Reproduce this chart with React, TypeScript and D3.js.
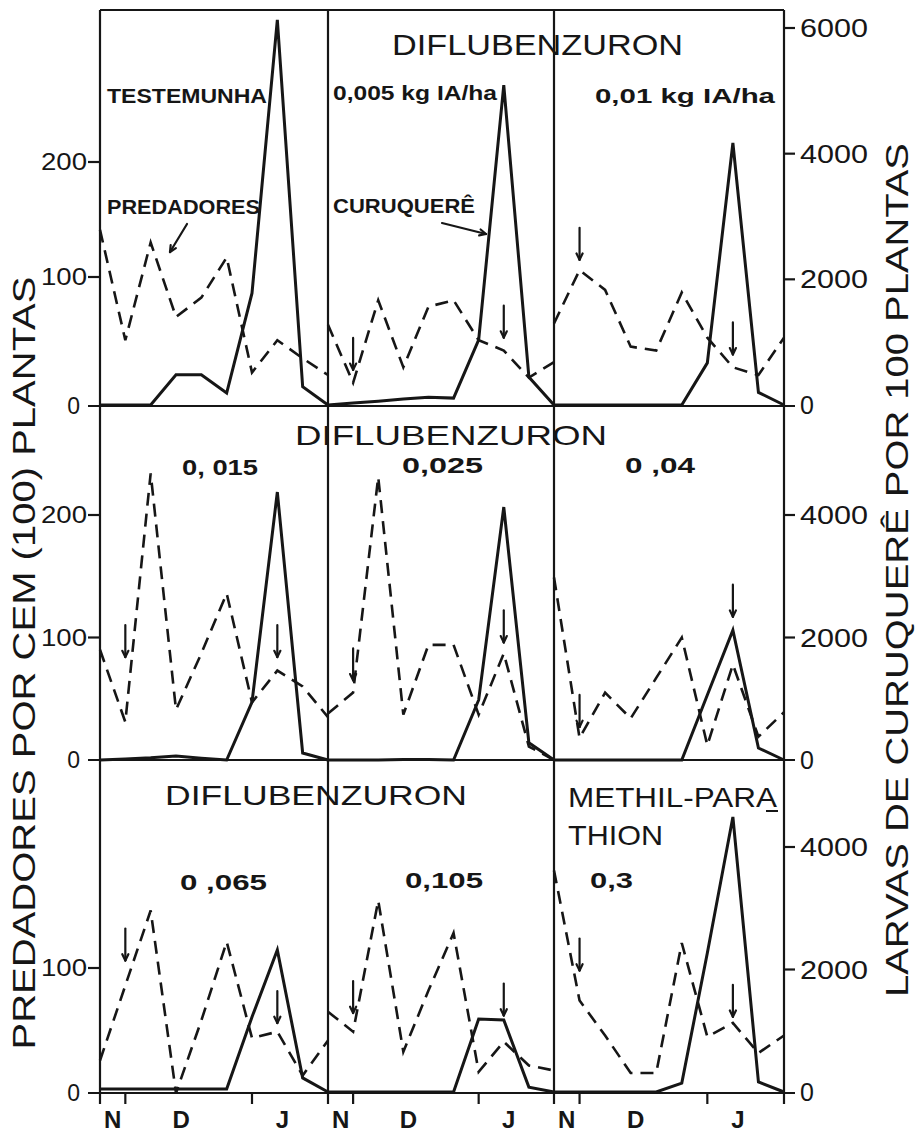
import React from "react";
import * as d3 from "d3";

// ---------- DATA ----------
// sample index (weekly samplings, Nov -> Jan)
const samples = [0, 1, 2, 3, 4, 5, 6, 7, 8, 9];

// Predadores por cem (100) plantas (left axis)
const pred1 = [141, 51, 130, 69, 84, 117, 26, 51, 37, 24]; // Testemunha
const pred2 = [63, 18, 82, 30, 77, 82, 51, 43, 22, 34]; // 0,005
const pred3 = [64, 106, 90, 46, 43, 88, 53, 30, 24, 53]; // 0,01
const pred4 = [90, 31, 234, 41, 87, 136, 47, 73, 60, 35]; // 0,015
const pred5 = [38, 55, 231, 37, 94, 94, 37, 87, 11, 0]; // 0,025
const pred6 = [149, 18, 55, 34, 67, 100, 12, 78, 19, 39]; // 0,04
const pred7 = [26, 86, 146, 0, 58, 121, 44, 49, 14, 42]; // 0,065
const pred8 = [65, 49, 154, 33, 82, 128, 17, 41, 22, 18]; // 0,105
const pred9 = [178, 74, 46, 16, 16, 120, 45, 56, 32, 46]; // Methil-parathion 0,3

// Larvas de curuquerê por 100 plantas (right axis)
const curu1 = [0, 0, 0, 480, 480, 190, 1780, 6130, 290, 0];
const curu2 = [0, 30, 60, 95, 125, 110, 1035, 5090, 445, 0];
const curu3 = [0, 0, 0, 0, 0, 0, 670, 4170, 200, 0];
const curu4 = [0, 15, 35, 65, 30, 0, 945, 4375, 115, 0];
const curu5 = [0, 0, 0, 10, 10, 0, 980, 4130, 280, 0];
const curu6 = [0, 0, 0, 0, 0, 0, 1060, 2120, 195, 0];
const curu7 = [50, 50, 50, 50, 50, 50, 1225, 2320, 230, 0];
const curu8 = [0, 0, 0, 0, 0, 0, 1190, 1175, 80, 0];
const curu9 = [0, 0, 0, 0, 0, 145, 2270, 4490, 165, 0];

// application arrows: [sample index, tip value (left units)] per panel
const arrows2 = [[1, 28], [7, 53]];
const arrows3 = [[1, 115], [7, 40]];
const arrows4 = [[1, 84], [7, 84]];
const arrows5 = [[1, 65], [7, 96]];
const arrows6 = [[1, 27], [7, 117]];
const arrows7 = [[1, 106], [7, 56]];
const arrows8 = [[1, 64], [7, 62]];
const arrows9 = [[1, 98], [7, 61]];

const leftTicks = [[0, 100, 200], [0, 100, 200], [0, 100]];
const rightTicks = [[0, 2000, 4000, 6000], [0, 2000, 4000], [0, 2000, 4000]];
const monthLabels = ["N", "D", "J"];
const monthSample = [0.5, 3.2, 7.2];
const tickSamples = [1, 6];

// ---------- LAYOUT ----------
const colX = [100, 328, 554, 784];
const rowTop = [10, 406, 760];
const leftScales = [
  d3.scaleLinear().domain([0, 100, 200]).range([406, 277, 162]),
  d3.scaleLinear().domain([0, 200]).range([760, 515]),
  d3.scaleLinear().domain([0, 100]).range([1093, 968]),
];
const rightScales = [
  d3.scaleLinear().domain([0, 6000]).range([405, 28]),
  d3.scaleLinear().domain([0, 4000]).range([760, 515]),
  d3.scaleLinear().domain([0, 4000]).range([1092, 847]),
];
const zeroY = [406, 760, 1093];

const panels = [
  { pred: pred1, curu: curu1, arrows: [] as number[][] },
  { pred: pred2, curu: curu2, arrows: arrows2 },
  { pred: pred3, curu: curu3, arrows: arrows3 },
  { pred: pred4, curu: curu4, arrows: arrows4 },
  { pred: pred5, curu: curu5, arrows: arrows5 },
  { pred: pred6, curu: curu6, arrows: arrows6 },
  { pred: pred7, curu: curu7, arrows: arrows7 },
  { pred: pred8, curu: curu8, arrows: arrows8 },
  { pred: pred9, curu: curu9, arrows: arrows9 },
];

const INK = "#161616";
const FONT = "'Liberation Sans', Arial, sans-serif";

function Arrow({ x1, y1, x2, y2, head = 7 }: any) {
  const ang = Math.atan2(y2 - y1, x2 - x1);
  const a1 = ang + Math.PI - 0.45;
  const a2 = ang + Math.PI + 0.45;
  return (
    <g stroke={INK} strokeWidth={2.2} fill="none" strokeLinecap="round">
      <line x1={x1} y1={y1} x2={x2} y2={y2} />
      <line x1={x2} y1={y2} x2={x2 + head * Math.cos(a1)} y2={y2 + head * Math.sin(a1)} />
      <line x1={x2} y1={y2} x2={x2 + head * Math.cos(a2)} y2={y2 + head * Math.sin(a2)} />
    </g>
  );
}

function Panel({ idx }: { idx: number }) {
  const r = Math.floor(idx / 3);
  const c = idx % 3;
  const p = panels[idx];
  const x = d3.scaleLinear().domain([0, 9]).range([colX[c], colX[c + 1]]);
  const yL = leftScales[r];
  const yR = rightScales[r];
  const predLine = d3
    .line<number>()
    .x((_, i) => x(samples[i]))
    .y((d) => yL(d));
  const curuLine = d3
    .line<number>()
    .x((_, i) => x(samples[i]))
    .y((d) => yR(d));
  return (
    <g>
      <path d={predLine(p.pred) || ""} fill="none" stroke={INK} strokeWidth={2.6} strokeDasharray="13,8" />
      <path d={curuLine(p.curu) || ""} fill="none" stroke={INK} strokeWidth={3} strokeLinejoin="miter" />
      {p.arrows.map(([s, v], k) => (
        <Arrow key={k} x1={x(s)} y1={yL(v) - 32} x2={x(s)} y2={yL(v)} />
      ))}
    </g>
  );
}

function T({ x, y, len, size, bold, children, anchor }: any) {
  return (
    <text
      x={x}
      y={y}
      fontSize={size}
      fontWeight={bold ? 700 : 400}
      textLength={len}
      lengthAdjust="spacingAndGlyphs"
      textAnchor={anchor || "start"}
      fill={INK}
    >
      {children}
    </text>
  );
}

export default function App() {
  return (
    <svg
      width={916}
      height={1134}
      style={{ position: "absolute", left: 0, top: 0, background: "#fff" }}
      fontFamily={FONT}
    >
      <rect x={0} y={0} width={916} height={1134} fill="#fff" />
      {/* frame */}
      <g stroke={INK} strokeWidth={2.2}>
        <line x1={100} y1={10} x2={784} y2={10} />
        {zeroY.map((y, i) => (
          <line key={i} x1={88} y1={y} x2={795} y2={y} />
        ))}
        {colX.map((xx, i) => (
          <line key={i} x1={xx} y1={10} x2={xx} y2={1104} />
        ))}
        {leftTicks.map((ts, r) =>
          ts.filter((t) => t > 0).map((t) => (
            <line key={r + "-" + t} x1={88} y1={leftScales[r](t)} x2={100} y2={leftScales[r](t)} />
          ))
        )}
        {rightTicks.map((ts, r) =>
          ts.filter((t) => t > 0).map((t) => (
            <line key={r + "-" + t} x1={784} y1={rightScales[r](t)} x2={795} y2={rightScales[r](t)} />
          ))
        )}
        {[0, 1, 2].map((c) => {
          const x = d3.scaleLinear().domain([0, 9]).range([colX[c], colX[c + 1]]);
          return tickSamples.map((s) => (
            <line key={c + "-" + s} x1={x(s)} y1={1093} x2={x(s)} y2={1104} />
          ));
        })}
      </g>

      {panels.map((_, i) => (
        <Panel key={i} idx={i} />
      ))}

      {/* left tick labels */}
      {leftTicks.map((ts, r) =>
        ts.map((t) => (
          <text
            key={r + "-" + t}
            x={t === 0 ? 80 : 87}
            y={leftScales[r](t)}
            dy="0.36em"
            fontSize={23}
            textAnchor="end"
            textLength={t === 0 ? undefined : 46}
            lengthAdjust="spacingAndGlyphs"
            fill={INK}
          >
            {t}
          </text>
        ))
      )}
      {/* right tick labels */}
      {rightTicks.map((ts, r) =>
        ts.map((t) => (
          <text
            key={r + "-" + t}
            x={800}
            y={rightScales[r](t)}
            dy="0.36em"
            fontSize={25}
            textAnchor="start"
            textLength={t === 0 ? undefined : 68}
            lengthAdjust="spacingAndGlyphs"
            fill={INK}
          >
            {t}
          </text>
        ))
      )}
      {/* month labels */}
      {[0, 1, 2].map((c) => {
        const x = d3.scaleLinear().domain([0, 9]).range([colX[c], colX[c + 1]]);
        return monthLabels.map((m, k) => (
          <text key={c + m} x={x(monthSample[k])} y={1128} fontSize={24} fontWeight={700} textAnchor="middle" fill={INK}>
            {m}
          </text>
        ));
      })}

      {/* axis titles */}
      <text
        transform="translate(35,663) rotate(-90)"
        fontSize={32}
        textAnchor="middle"
        textLength={773}
        lengthAdjust="spacingAndGlyphs"
        fill={INK}
      >
        PREDADORES POR CEM (100) PLANTAS
      </text>
      <text
        transform="translate(908,570) rotate(-90)"
        fontSize={31}
        textAnchor="middle"
        textLength={854}
        lengthAdjust="spacingAndGlyphs"
        fill={INK}
      >
        LARVAS DE CURUQUERÊ POR 100 PLANTAS
      </text>

      {/* panel annotations */}
      <T x={107} y={103} len={160} size={21} bold>TESTEMUNHA</T>
      <T x={107} y={214} len={153} size={21} bold>PREDADORES</T>
      <Arrow x1={187} y1={224} x2={170} y2={252} />
      <T x={392} y={55} len={291} size={30}>DIFLUBENZURON</T>
      <T x={333} y={100} len={164} size={20} bold>0,005 kg IA/ha</T>
      <T x={333} y={213} len={142} size={21} bold>CURUQUERÊ</T>
      <Arrow x1={442} y1={223} x2={486} y2={234} />
      <T x={595} y={103} len={180} size={20} bold>0,01 kg IA/ha</T>

      <T x={295} y={445} len={312} size={28}>DIFLUBENZURON</T>
      <T x={182} y={475} len={76} size={22} bold>0, 015</T>
      <T x={402} y={473} len={81} size={22} bold>0,025</T>
      <T x={625} y={473} len={70} size={22} bold>0 ,04</T>

      <T x={165} y={805} len={302} size={28}>DIFLUBENZURON</T>
      <T x={180} y={890} len={87} size={22} bold>0 ,065</T>
      <T x={405} y={888} len={78} size={22} bold>0,105</T>
      <T x={568} y={807} len={209} size={28}>METHIL-PARA</T>
      <line x1={766} y1={811} x2={778} y2={811} stroke={INK} strokeWidth={2} />
      <T x={568} y={845} len={95} size={28}>THION</T>
      <T x={590} y={888} len={43} size={22} bold>0,3</T>
    </svg>
  );
}
